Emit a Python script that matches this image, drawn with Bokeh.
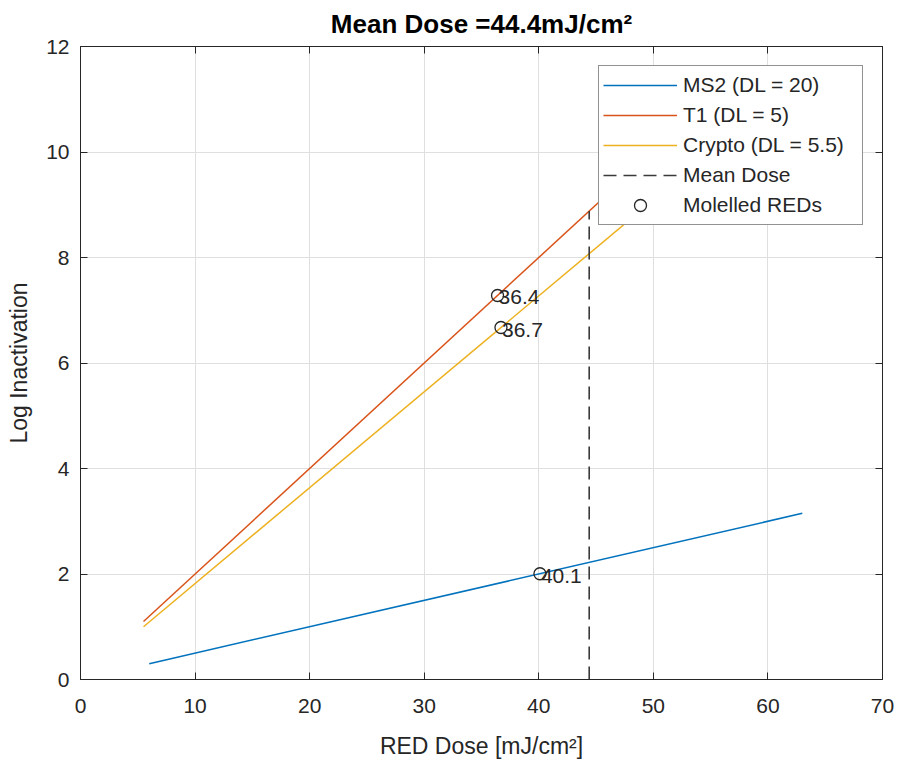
from bokeh.plotting import figure
from bokeh.models import (Range1d, LinearAxis, FixedTicker, Legend, LegendItem,
                          ColumnDataSource, Grid)
from bokeh.core.properties import value
from bokeh.embed import file_html
from bokeh.resources import INLINE

# ---- data ----
ms2_dose = [6.0, 63.0]
ms2_log = [0.3, 3.15]
t1_dose = [5.5, 55.0]
t1_log = [1.1, 11.0]
crypto_dose = [5.5, 63.0]
crypto_log = [1.0, 11.4545]
mean_dose = 44.4
mean_dose_top = 8.88
red_x = [40.1, 36.4, 36.7]
red_y = [2.005, 7.28, 6.6727]
red_labels = ["40.1", "36.4", "36.7"]
x_ticks = [0, 10, 20, 30, 40, 50, 60, 70]
y_ticks = [0, 2, 4, 6, 8, 10, 12]

FONT = "Liberation Sans"
AX = "#262626"
GRID = "#dfdfdf"

p = figure(width=900, height=763, output_backend="svg", toolbar_location=None,
           x_range=Range1d(0, 70), y_range=Range1d(0, 12),
           min_border_left=80, min_border_right=18, min_border_top=46,
           min_border_bottom=84, x_axis_type=None, y_axis_type=None)

p.title.text = "Mean Dose =44.4mJ/cm\u00b2"
p.title.align = "center"
p.title.vertical_align = "top"
p.title.text_font = FONT
p.title.text_font_size = "26px"
p.title.text_font_style = "bold"
p.title.text_color = "#000000"
p.title.offset = 0
p.title.standoff = 12

p.outline_line_color = AX
p.outline_line_width = 1
p.background_fill_color = "white"
p.border_fill_color = "white"


def mk_axis(labels, ticks, label=None):
    ax = LinearAxis(ticker=FixedTicker(ticks=ticks))
    ax.major_tick_in = 7
    ax.major_tick_out = 0
    ax.minor_tick_in = 0
    ax.minor_tick_out = 0
    ax.axis_line_color = AX
    ax.major_tick_line_color = AX
    ax.major_label_text_font = FONT
    if labels:
        ax.major_label_text_color = AX
        ax.major_label_text_font_size = "21px"
    else:
        ax.major_label_text_color = None
        ax.major_label_text_font_size = "1px"
        ax.major_label_standoff = 0
    if label:
        ax.axis_label = label
        ax.axis_label_text_font = FONT
        ax.axis_label_text_font_size = "23px"
        ax.axis_label_text_font_style = "normal"
        ax.axis_label_text_color = AX
    return ax


xb = mk_axis(True, x_ticks, "RED Dose [mJ/cm\u00b2]")
xb.major_label_standoff = 19
xb.axis_label_standoff = 17
yl = mk_axis(True, y_ticks, "Log Inactivation")
yl.major_label_standoff = 11
yl.axis_label_standoff = 11
xt = mk_axis(False, x_ticks)
yr = mk_axis(False, y_ticks)
p.add_layout(xb, "below")
p.add_layout(yl, "left")
p.add_layout(xt, "above")
p.add_layout(yr, "right")

p.add_layout(Grid(dimension=0, ticker=xb.ticker, grid_line_color=GRID))
p.add_layout(Grid(dimension=1, ticker=yl.ticker, grid_line_color=GRID))

r1 = p.line(ms2_dose, ms2_log, line_color="#0072BD", line_width=1.5)
r2 = p.line(t1_dose, t1_log, line_color="#D95319", line_width=1.5)
r3 = p.line(crypto_dose, crypto_log, line_color="#EDB120", line_width=1.5)
r4 = p.line([mean_dose, mean_dose], [0, mean_dose_top], line_color="#3a3a3a",
            line_width=1.6, line_dash="13 7")
src = ColumnDataSource(dict(x=red_x, y=red_y, t=red_labels))
r5 = p.scatter("x", "y", source=src, marker="circle", size=12, fill_color=None,
               line_color="#262626", line_width=1.3)
p.text("x", "y", text="t", source=src, text_font=value(FONT),
       text_font_size="21px", text_color="#262626", text_align="left",
       text_baseline="middle", x_offset=1, y_offset=2)

legend = Legend(items=[
    LegendItem(label="MS2 (DL = 20)", renderers=[r1]),
    LegendItem(label="T1 (DL = 5)", renderers=[r2]),
    LegendItem(label="Crypto (DL = 5.5)", renderers=[r3]),
    LegendItem(label="Mean Dose", renderers=[r4]),
    LegendItem(label="Molelled REDs", renderers=[r5]),
], location="top_right")
legend.margin = 19
legend.padding = 4
legend.spacing = 0
legend.glyph_width = 74
legend.glyph_height = 30
legend.label_height = 30
legend.label_width = 175
legend.label_standoff = 6
legend.label_text_font = FONT
legend.label_text_font_size = "21px"
legend.label_text_color = AX
legend.border_line_color = "#262626"
legend.border_line_width = 1
legend.background_fill_color = "white"
legend.background_fill_alpha = 1.0
p.add_layout(legend, "center")

open("out.html", "w").write(file_html(p, INLINE))
